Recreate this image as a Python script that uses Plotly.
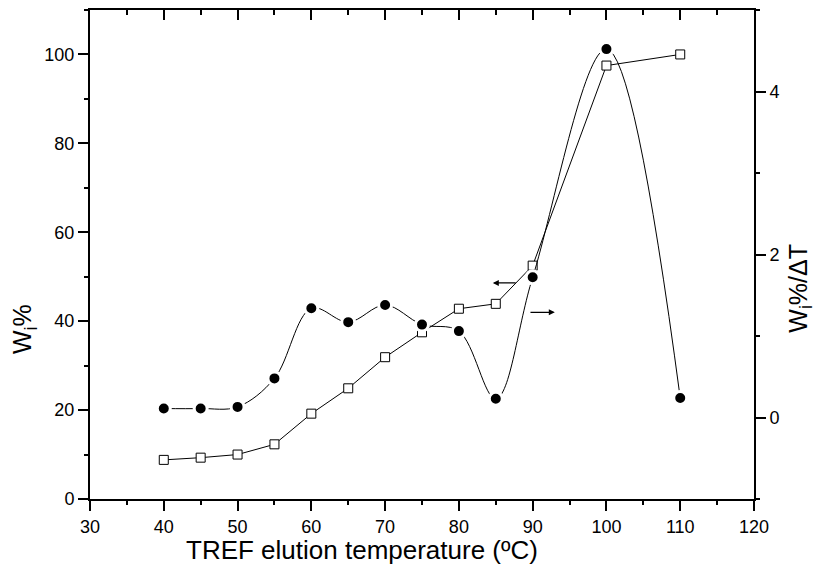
import plotly.graph_objects as go

temps_sq = [40, 45, 50, 55, 60, 65, 70, 75, 80, 85, 90, 100, 110]
wi_cum = [8.8, 9.3, 10.0, 12.3, 19.2, 24.9, 31.9, 37.5, 42.8, 43.9, 52.5, 97.5, 100.0]

temps_ci = [40, 45, 50, 55, 60, 65, 70, 75, 80, 85, 90, 100, 110]
wi_dT = [0.11, 0.11, 0.13, 0.48, 1.34, 1.17, 1.38, 1.14, 1.06, 0.23, 1.72, 4.52, 0.24]

FONT = "Arial, Liberation Sans, sans-serif"
X_RANGE = [30, 120]
Y_RANGE = [0, 110]
Y2_RANGE = [-1, 5]

fig = go.Figure()

fig.add_trace(go.Scatter(
    x=temps_ci, y=wi_dT, yaxis="y2", mode="lines+markers",
    line=dict(color="black", width=1, shape="spline", smoothing=1.0),
    marker=dict(symbol="circle", size=13, color="black",
                line=dict(color="white", width=3)),
    showlegend=False,
))
fig.add_trace(go.Scatter(
    x=temps_sq, y=wi_cum, mode="lines+markers",
    line=dict(color="black", width=1),
    marker=dict(symbol="square", size=9, color="white",
                line=dict(color="black", width=1)),
    showlegend=False,
))
# invisible traces so the overlay (top / minor-tick) axes are drawn
for xa, ya in [("x2", "y"), ("x3", "y3"), ("x4", "y4")]:
    fig.add_trace(go.Scatter(x=[X_RANGE[0]], y=[0], xaxis=xa, yaxis=ya, mode="markers",
                             marker=dict(opacity=0), showlegend=False, hoverinfo="skip"))


def ax(**kw):
    d = dict(showline=True, linecolor="black", linewidth=2, showgrid=False,
             zeroline=False, tickcolor="black", tickwidth=2, ticklen=10,
             tickfont=dict(family=FONT, size=18, color="black"))
    d.update(kw)
    return d


def minor_ax(**kw):
    d = dict(showline=False, showgrid=False, zeroline=False, showticklabels=False,
             tickcolor="black", tickwidth=2, ticklen=5)
    d.update(kw)
    return d


fig.update_layout(
    template="none",
    width=819, height=567,
    margin=dict(l=90, r=65, t=10, b=68),
    plot_bgcolor="white", paper_bgcolor="white",
    # major axes
    xaxis=ax(range=X_RANGE, dtick=10, tick0=30, ticks="outside"),
    xaxis2=ax(range=X_RANGE, overlaying="x", side="top", dtick=10, tick0=30,
              ticks="inside", showticklabels=False),
    yaxis=ax(range=Y_RANGE, dtick=20, tick0=0, ticks="outside"),
    yaxis2=ax(range=Y2_RANGE, dtick=2, tick0=0, ticks="outside",
              overlaying="y", side="right"),
    # minor tick axes
    xaxis3=minor_ax(range=X_RANGE, overlaying="x", side="bottom", dtick=5, tick0=30,
                    ticks="outside"),
    yaxis3=minor_ax(range=Y_RANGE, overlaying="y", side="left", dtick=10, tick0=0,
                    ticks="outside"),
    xaxis4=minor_ax(range=X_RANGE, overlaying="x", side="top", dtick=5, tick0=30,
                    ticks="inside"),
    yaxis4=minor_ax(range=Y2_RANGE, overlaying="y", side="right", dtick=1, tick0=0,
                    ticks="outside"),
    annotations=[
        dict(text="TREF elution temperature (ºC)", xref="paper", yref="paper",
             x=0.41, y=-0.105, xanchor="center", yanchor="middle", showarrow=False,
             font=dict(family=FONT, size=26, color="black")),
        dict(text="W<sub>i</sub>%", xref="paper", yref="paper",
             x=-0.099, y=0.348, xanchor="center", yanchor="middle", showarrow=False,
             textangle=-90, font=dict(family=FONT, size=25, color="black")),
        dict(text="W<sub>i</sub>%/ΔT", xref="paper", yref="paper",
             x=1.07, y=0.431, xanchor="center", yanchor="middle", showarrow=False,
             textangle=-90, font=dict(family=FONT, size=25, color="black")),
        dict(text="", x=84.6, y=48.6, ax=87.9, ay=48.6, xref="x", yref="y",
             axref="x", ayref="y", showarrow=True, arrowhead=2, arrowsize=1,
             arrowwidth=1.2, arrowcolor="black"),
        dict(text="", x=93.0, y=42.0, ax=89.5, ay=42.0, xref="x", yref="y",
             axref="x", ayref="y", showarrow=True, arrowhead=2, arrowsize=1,
             arrowwidth=1.2, arrowcolor="black"),
    ],
)

fig.write_html("out.html")
